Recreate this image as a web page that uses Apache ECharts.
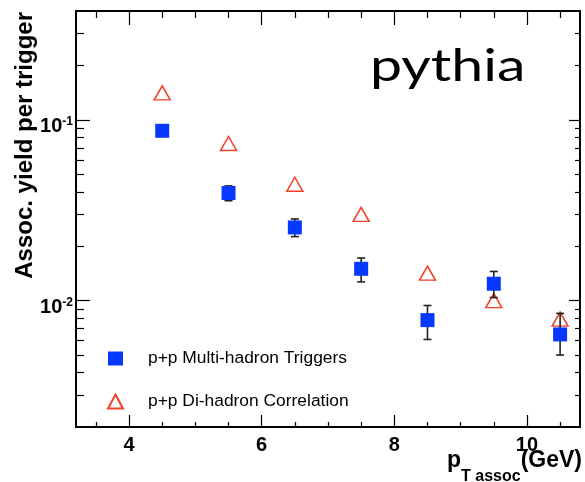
<!DOCTYPE html>
<html>
<head>
<meta charset="utf-8">
<script src="https://cdn.jsdelivr.net/npm/echarts@6/dist/echarts.min.js"></script>
<style>
  html, body { margin: 0; padding: 0; background: #fff; }
  #main { width: 585px; height: 482px; }
</style>
</head>
<body>
<div id="main"></div>
<script>
// Associated hadron pT bins (GeV)
const ptAssoc = [4.5, 5.5, 6.5, 7.5, 8.5, 9.5, 10.5];

// p+p multi-hadron triggers: yield and error band
const multiHadron     = [0.087, 0.0394, 0.0254, 0.0150, 0.0078, 0.0124, 0.0065];
const multiHadronLow  = [0.084, 0.0357, 0.0226, 0.0127, 0.0061, 0.0104, 0.0050];
const multiHadronHigh = [0.090, 0.0431, 0.0283, 0.0172, 0.0094, 0.0145, 0.0085];

// p+p di-hadron correlation yield
const diHadron = [0.141, 0.074, 0.044, 0.030, 0.0142, 0.0100, 0.0079];

// Axis ranges and ticks
const xRange = [3.2, 10.8];
const xMajorTicks = [4, 6, 8, 10];
const xMinorTicks = [3.5, 4.5, 5, 5.5, 6.5, 7, 7.5, 8.5, 9, 9.5, 10.5];
const yRange = [0.002, 0.4];
const yDecades = [0.01, 0.1];
const yMinorTicks = [0.003, 0.004, 0.005, 0.006, 0.007, 0.008, 0.009,
                     0.02, 0.03, 0.04, 0.05, 0.06, 0.07, 0.08, 0.09,
                     0.2, 0.3];

const legendNames = ['p+p Multi-hadron Triggers', 'p+p Di-hadron Correlation'];
const plotTitle = 'pythia';

// The vertical axis is logarithmic: values are placed on a linear axis in log10 space.
const lg = Math.log10;

const BLUE = '#0638ff';
const RED = '#f4402a';
const SANS = 'Liberation Sans, Arial, Helvetica, sans-serif';

function xAxisDef(position, ticks, len, withLabels) {
  return {
    type: 'value', position: position, min: xRange[0], max: xRange[1],
    axisLine: { show: true, onZero: false, lineStyle: { color: '#000', width: 2 } },
    axisTick: { show: true, inside: true, length: len, customValues: ticks,
                lineStyle: { color: '#000', width: 1.2 } },
    axisLabel: withLabels ? {
      show: true, customValues: ticks, margin: 8,
      fontFamily: SANS, fontWeight: 'bold', fontSize: 20, color: '#000'
    } : { show: false },
    splitLine: { show: false }
  };
}

function yAxisDef(position, ticks, len, withLabels) {
  return {
    type: 'value', position: position, min: lg(yRange[0]), max: lg(yRange[1]),
    axisLine: { show: true, onZero: false, lineStyle: { color: '#000', width: 2 } },
    axisTick: { show: true, inside: true, length: len, customValues: ticks.map(lg),
                lineStyle: { color: '#000', width: 1.2 } },
    axisLabel: withLabels ? {
      show: true, customValues: ticks.map(lg), margin: 3,
      padding: [13, 0, 0, 0],
      formatter: function (v) { return '{b|10}{s|' + Math.round(v) + '}'; },
      rich: {
        b: { fontFamily: SANS, fontWeight: 'bold', fontSize: 20, color: '#000', lineHeight: 21 },
        s: { fontFamily: SANS, fontWeight: 'bold', fontSize: 12, color: '#000',
             verticalAlign: 'top', lineHeight: 12 }
      }
    } : { show: false },
    splitLine: { show: false }
  };
}

const xAxes = [
  xAxisDef('bottom', xMajorTicks, 12, true),
  xAxisDef('bottom', xMinorTicks, 5, false),
  xAxisDef('top', xMajorTicks, 14, false),
  xAxisDef('top', xMinorTicks, 7, false)
];
xAxes[0].name = '{p|p}{sub|T assoc}{u|(GeV)}';
xAxes[0].nameLocation = 'end';
xAxes[0].nameGap = 2;
xAxes[0].nameMoveOverlap = false;
xAxes[0].nameTextStyle = {
  align: 'right', verticalAlign: 'top', padding: [22, 0, 0, 0],
  rich: {
    p: { fontFamily: SANS, fontWeight: 'bold', fontSize: 23, color: '#000', verticalAlign: 'top', lineHeight: 23 },
    sub: { fontFamily: SANS, fontWeight: 'bold', fontSize: 16, color: '#000', verticalAlign: 'top',
           lineHeight: 16, padding: [20, 0, 0, 0] },
    u: { fontFamily: SANS, fontWeight: 'bold', fontSize: 23, color: '#000', verticalAlign: 'top', lineHeight: 23 }
  }
};

const yAxes = [
  yAxisDef('left', yDecades, 14, true),
  yAxisDef('left', yMinorTicks, 8, false),
  yAxisDef('right', yDecades, 11, false),
  yAxisDef('right', yMinorTicks, 5, false)
];
yAxes[0].name = 'Assoc. yield per trigger';
yAxes[0].nameLocation = 'end';
yAxes[0].nameRotate = 90;
yAxes[0].nameGap = -1;
yAxes[0].nameMoveOverlap = false;
yAxes[0].nameTextStyle = {
  fontFamily: SANS, fontWeight: 'bold', fontSize: 24, color: '#000',
  align: 'right', verticalAlign: 'bottom', padding: [0, 0, 39, 0]
};

const chart = echarts.init(document.getElementById('main'), null, { renderer: 'canvas' });

chart.setOption({
  animation: false,
  backgroundColor: '#fff',
  graphic: [{
    type: 'text', left: 370, top: 45, scaleX: 1.3,
    style: { text: plotTitle, font: '44px Lato, sans-serif', fill: '#000' }
  }],
  grid: { left: 76, right: 5, top: 11, bottom: 55, containLabel: false, outerBoundsMode: 'none' },
  xAxis: xAxes,
  yAxis: yAxes,
  legend: {
    data: legendNames,
    orient: 'vertical', left: 102, top: 345,
    itemWidth: 15, itemHeight: 14, itemGap: 26,
    textStyle: { fontFamily: SANS, fontSize: 17.4, color: '#000', padding: [0, 0, 0, 20] }
  },
  series: [
    {
      name: legendNames[1], type: 'scatter', z: 2,
      symbol: 'triangle', symbolSize: [16, 14],
      itemStyle: { color: '#fff', borderColor: RED, borderWidth: 1.5, opacity: 1 },
      data: ptAssoc.map((x, i) => [x, lg(diHadron[i])])
    },
    {
      name: 'errors', type: 'custom', z: 3,
      renderItem: function (params, api) {
        const x = api.value(0);
        const pLo = api.coord([x, api.value(1)]);
        const pHi = api.coord([x, api.value(2)]);
        const cap = 4;
        const st = { stroke: '#222', lineWidth: 1.6 };
        return {
          type: 'group',
          children: [
            { type: 'line', shape: { x1: pLo[0], y1: pLo[1], x2: pHi[0], y2: pHi[1] }, style: st },
            { type: 'line', shape: { x1: pLo[0] - cap, y1: pLo[1], x2: pLo[0] + cap, y2: pLo[1] }, style: st },
            { type: 'line', shape: { x1: pHi[0] - cap, y1: pHi[1], x2: pHi[0] + cap, y2: pHi[1] }, style: st }
          ]
        };
      },
      encode: { x: 0, y: [1, 2] },
      data: ptAssoc.map((x, i) => [x, lg(multiHadronLow[i]), lg(multiHadronHigh[i])])
    },
    {
      name: legendNames[0], type: 'scatter', z: 4,
      symbol: 'rect', symbolSize: 14,
      itemStyle: { color: BLUE, opacity: 1 },
      data: ptAssoc.map((x, i) => [x, lg(multiHadron[i])])
    }
  ]
});
</script>
</body>
</html>
